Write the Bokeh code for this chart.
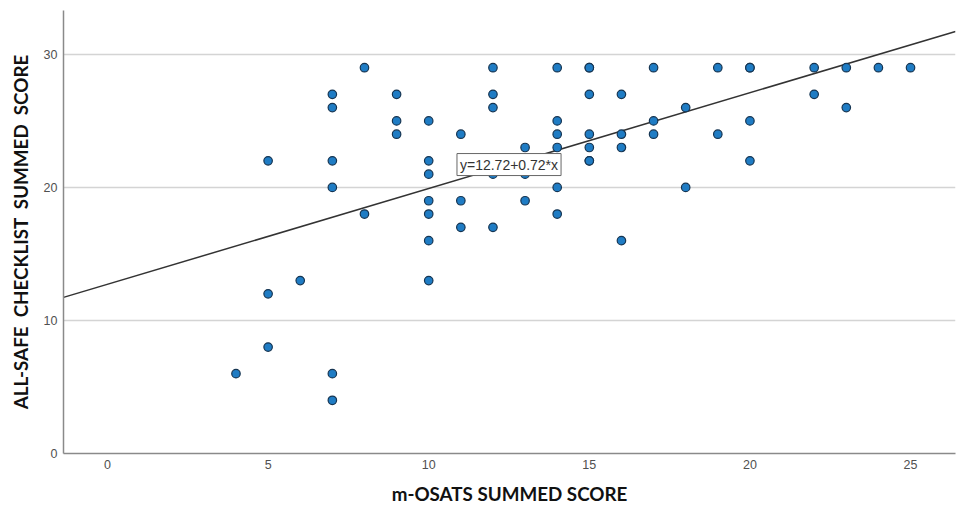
from bokeh.plotting import figure
from bokeh.models import Range1d, FixedTicker, Label
from bokeh.embed import file_html
from bokeh.resources import INLINE

# m-OSATS summed score (x) and ALL-SAFE checklist summed score (y)
osats = [4,
         5, 5, 5,
         6,
         7, 7, 7, 7, 7, 7,
         8, 8,
         9, 9, 9,
         10, 10, 10, 10, 10, 10, 10,
         11, 11, 11,
         12, 12, 12, 12, 12,
         13, 13, 13,
         14, 14, 14, 14, 14, 14,
         15, 15, 15, 15, 15, 15, 15,
         16, 16, 16, 16,
         17, 17, 17,
         18, 18,
         19, 19,
         20, 20, 20, 20,
         22, 22,
         23, 23,
         24,
         25]
allsafe = [6,
           22, 12, 8,
           13,
           27, 26, 22, 20, 6, 4,
           29, 18,
           27, 25, 24,
           25, 22, 21, 19, 18, 16, 13,
           24, 19, 17,
           29, 27, 26, 21, 17,
           23, 21, 19,
           29, 25, 24, 23, 20, 18,
           29, 29, 27, 24, 23, 22, 22,
           27, 24, 23, 16,
           29, 25, 24,
           26, 20,
           29, 24,
           29, 29, 25, 22,
           29, 27,
           29, 26,
           29,
           29]

# fitted line reported on the chart
intercept = 12.72
slope = 0.72
fit_label = "y=12.72+0.72*x"

x_ticks = [0, 5, 10, 15, 20, 25]
y_ticks = [0, 10, 20, 30]

p = figure(width=956, height=507, output_backend="svg", toolbar_location=None,
           x_range=Range1d(-1.37, 26.4), y_range=Range1d(0, 33.3),
           min_border_left=63, min_border_right=1, min_border_top=10,
           min_border_bottom=54)
p.outline_line_color = None
p.background_fill_color = "white"
p.border_fill_color = "white"

# grid
p.xgrid.grid_line_color = None
p.ygrid.grid_line_color = "#d4d4d4"
p.ygrid.grid_line_width = 1.5
p.ygrid.ticker = FixedTicker(ticks=[10, 20, 30])

# axes
for ax in (p.xaxis[0], p.yaxis[0]):
    ax.major_tick_line_color = None
    ax.minor_tick_line_color = None
    ax.major_tick_out = 0
    ax.major_tick_in = 0
    ax.axis_line_color = "#8a8a8a"
    ax.axis_line_width = 1.5
    ax.major_label_text_font = "Liberation Sans"
    ax.major_label_text_font_size = "12.5px"
    ax.major_label_text_color = "#505050"
    ax.axis_label_text_font = "Lato"
    ax.axis_label_text_font_style = "bold"
    ax.axis_label_text_color = "#111111"

p.xaxis.axis_label_text_font_size = "18.8px"
p.yaxis.axis_label_text_font_size = "18.8px"
p.xaxis.ticker = FixedTicker(ticks=x_ticks)
p.yaxis.ticker = FixedTicker(ticks=y_ticks)
p.xaxis.major_label_standoff = 6
p.yaxis.major_label_standoff = 6
p.xaxis.axis_label = "m-OSATS SUMMED SCORE"
p.yaxis.axis_label = "ALL-SAFE\u00a0\u00a0CHECKLIST\u00a0\u00a0SUMMED\u00a0\u00a0SCORE"
p.xaxis.axis_label_standoff = 10
p.yaxis.axis_label_standoff = 9

# fit line across full x range
xs = [p.x_range.start, p.x_range.end]
ys = [intercept + slope * v for v in xs]
p.line(xs, ys, line_color="#333333", line_width=1.5)

# points
p.scatter(osats, allsafe, size=8.5, fill_color="#1f7cc4",
          line_color="#163552", line_width=1.2)

# equation label
lx = 12.5
lab = Label(x=lx, y=intercept + slope * lx, text=fit_label,
            text_align="center", text_baseline="middle",
            text_font="Liberation Sans", text_font_size="14px",
            text_color="#333333",
            background_fill_color="white", background_fill_alpha=1.0,
            border_line_color="#666666", border_line_width=1,
            padding=3)
p.add_layout(lab)

open("out.html", "w").write(file_html(p, INLINE))
